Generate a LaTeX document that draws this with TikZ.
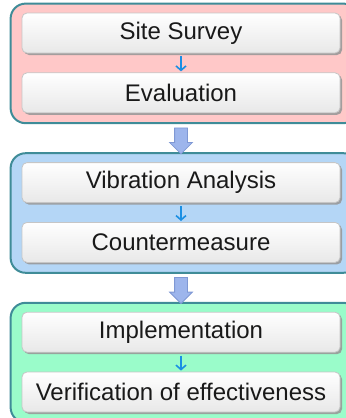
\documentclass[tikz,border=0pt]{standalone}
\usepackage{fontspec}
\setmainfont{Liberation Sans}
\usepackage{xcolor}
\usepackage{tikz}
\usetikzlibrary {positioning}
\usetikzlibrary{arrows.meta,shapes.arrows,shadows,calc,backgrounds}
\definecolor{frameteal}{HTML}{3F8C98}
\definecolor{pinkfill}{HTML}{FFC8C8}
\definecolor{bluefill}{HTML}{B4D6F6}
\definecolor{mintfill}{HTML}{9AFCCA}
\definecolor{stepblue}{HTML}{1A8FE3}
\definecolor{bigfill}{HTML}{9DB5EC}
\definecolor{bigedge}{HTML}{7F98D4}
\tikzset{edge/.style = {->,> = {Straight Barb[length=2.2pt,width=5pt]}, draw=stepblue, line width=0.8pt, shorten <=1.5pt, shorten >=0.5pt}}

\begin{document}
\begin{tikzpicture}[x=0.5pt,y=-0.5pt,node distance=9.5pt,
  main node/.style={rectangle,rounded corners=2.5pt,draw=gray!45,top color=white!96!blue!2,bottom color=gray!18,
    minimum width=159pt,minimum height=20pt,inner sep=0pt,text=black!90,font=\fontsize{12}{14}\selectfont,
    drop shadow={shadow xshift=1pt,shadow yshift=-1pt,fill=gray!80,opacity=0.9}},
  group/.style={overlay,draw=frameteal,line width=1pt,rounded corners=7.5pt},
  big arrow/.style={single arrow,draw=bigedge,fill=bigfill,rotate=-90,inner sep=3pt,
    minimum height=13pt,minimum width=11pt,single arrow head extend=2.5pt}]
    \useasboundingbox (0,0) rectangle (346,418);
                    \node[main node] (1) at (181,33) {Site Survey};
                    \node[main node] (2) [below=of 1] {Evaluation};
                    \node[main node] (3) [below=24.5pt of 2] {Vibration Analysis};
                    \node[main node] (4) [below=of 3] {Countermeasure};
                    \node[main node] (5) [below=24.5pt of 4] {Implementation};
                    \node[main node] (6) [below=of 5] {Verification of effectiveness};

                    \path (1) edge[edge] (2);
                    \path (3) edge[edge] (4);
                    \path (5) edge[edge] (6);

                    \node[big arrow] (a) at ($(2.south)!0.5!(3.north)$) {};
                    \node[big arrow] (b) at ($(4.south)!0.5!(5.north)$) {};

                    \begin{scope}[on background layer]
                    \draw[group,fill=pinkfill] ([xshift=-5.5pt,yshift=4.5pt]1.north west) rectangle ([xshift=9pt,yshift=-5pt]2.south east);
                    \draw[group,fill=bluefill] ([xshift=-5.5pt,yshift=4.5pt]3.north west) rectangle ([xshift=9pt,yshift=-5pt]4.south east);
                    \draw[group,fill=mintfill] ([xshift=-5.5pt,yshift=4.5pt]5.north west) rectangle ([xshift=9pt,yshift=-5pt]6.south east);
                    \end{scope}
                \end{tikzpicture}
\end{document}
